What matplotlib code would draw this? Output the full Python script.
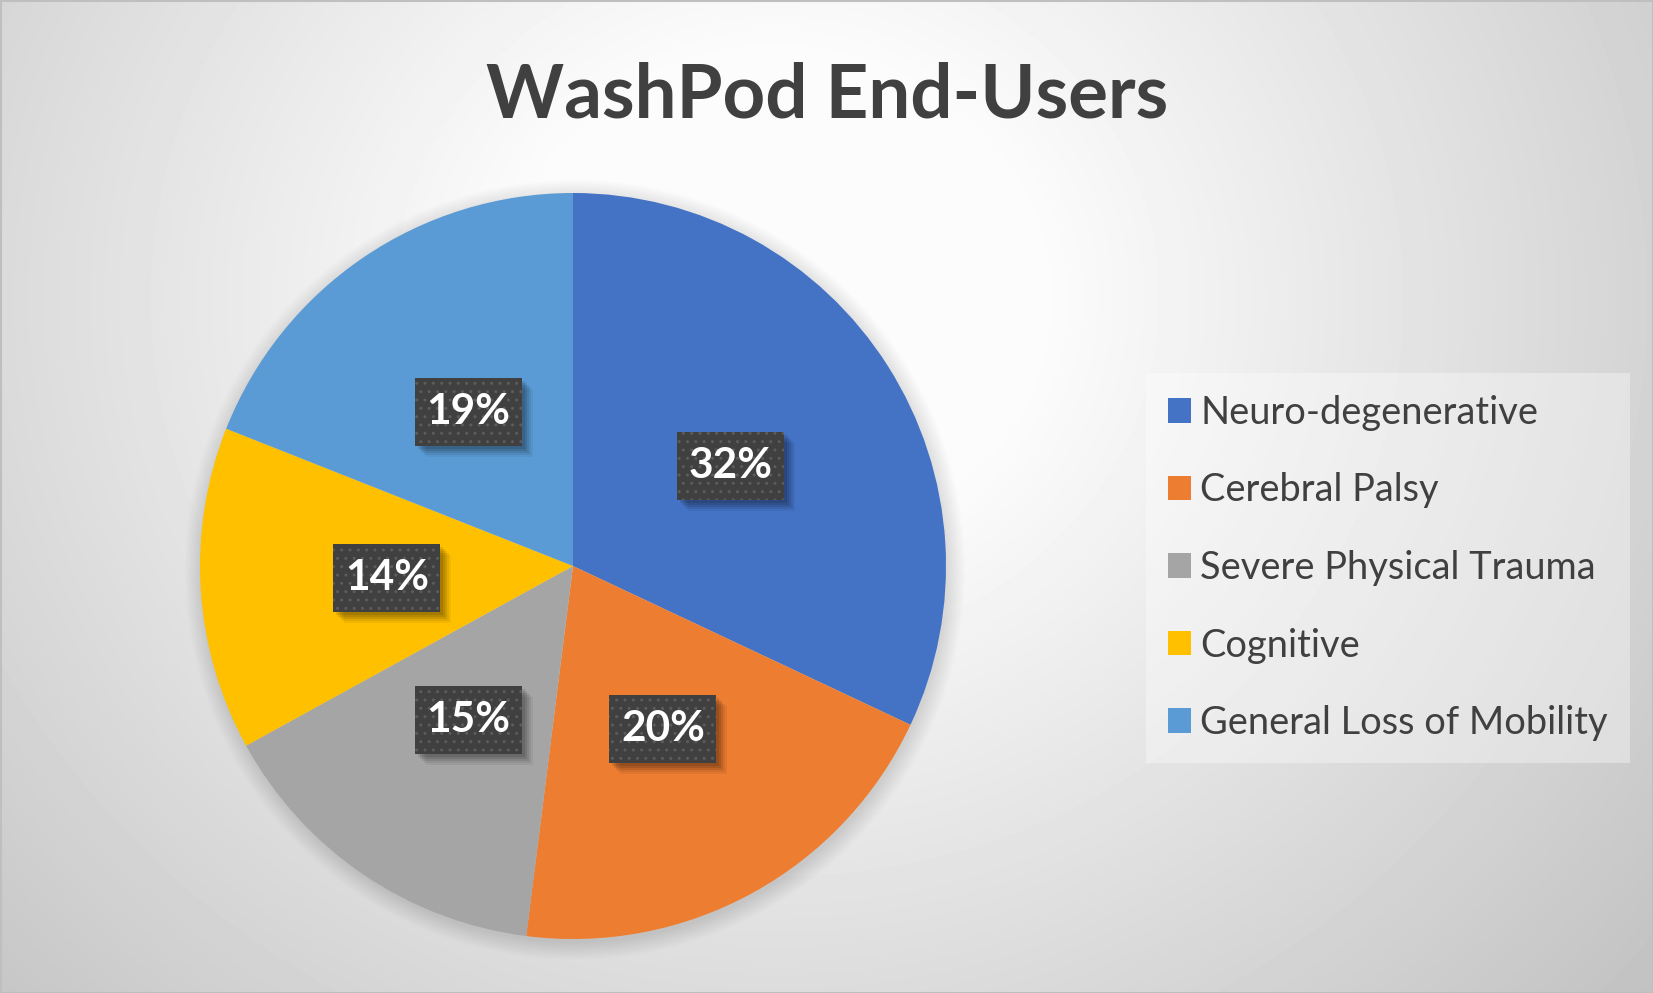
import numpy as np
import matplotlib
matplotlib.use('Agg')
import matplotlib.pyplot as plt
from matplotlib import patheffects as pe
from matplotlib.patches import Circle, Rectangle, Patch

# ---- data ----
categories = ['Neuro-degenerative', 'Cerebral Palsy', 'Severe Physical Trauma',
              'Cognitive', 'General Loss of Mobility']
values = [32, 20, 15, 14, 19]
colors = ['#4472C4', '#ED7D31', '#A5A5A5', '#FFC000', '#5B9BD5']
title = 'WashPod End-Users'

FONT = 'Lato'
TXT = '#404040'
W, H = 1653, 993
fig = plt.figure(figsize=(W / 100, H / 100), dpi=100)
renderer = fig.canvas.get_renderer()


def fit_size(s, target_px, weight='normal'):
    t = fig.text(0, 0, s, fontsize=20, fontweight=weight, family=FONT)
    w = t.get_window_extent(renderer).width
    t.remove()
    return 20 * target_px / w


def text_h(s, size, weight='normal'):
    t = fig.text(0, 0, s, fontsize=size, fontweight=weight, family=FONT)
    h = t.get_window_extent(renderer).height
    t.remove()
    return h

# ---- background gradient ----
bg = fig.add_axes([0, 0, 1, 1], zorder=-10)
gx, gy = np.meshgrid(np.linspace(0, 1, 400), np.linspace(0, 1, 240))
d = np.sqrt(((gx - 0.47) / 0.52) ** 2 + ((gy - 0.30) / 0.8) ** 2)
val = np.clip(255 - 56 * (d - 0.25), 194, 252) / 255.0
bg.imshow(val, cmap='gray', vmin=0, vmax=1, extent=[0, 1, 1, 0], aspect='auto',
          interpolation='bilinear')
bg.set_xlim(0, 1)
bg.set_ylim(1, 0)
bg.axis('off')

# ---- pie ----
cx, cy, R = 573, 566, 373
ax = fig.add_axes([(cx - R) / W, (H - cy - R) / H, 2 * R / W, 2 * R / H])
wedges, texts, autotexts = ax.pie(values, colors=colors, startangle=90,
                                  counterclock=False, radius=1.0,
                                  autopct='%1.0f%%', pctdistance=0.5,
                                  wedgeprops=dict(linewidth=0))
ax.set_xlim(-1, 1)
ax.set_ylim(-1, 1)
ax.axis('off')

# soft shadow around pie
for k in range(10):
    ax.add_patch(Circle((0.005, -0.01), 1.0 + 0.005 * k, facecolor='black',
                        edgecolor='none', alpha=0.012, zorder=0, clip_on=False))

pct_size = fit_size('19%', 84, 'bold')
bw, bh = 107 / R, 68 / R
for t in autotexts:
    x, y = t.get_position()
    # blurred drop shadow made of stacked translucent boxes
    for k, a in [(3, 0.10), (5, 0.10), (7, 0.09), (9, 0.07), (11, 0.05)]:
        ax.add_patch(Rectangle((x - bw / 2 + k / R, y - bh / 2 - k / R), bw, bh,
                               facecolor='black', edgecolor='none', alpha=a,
                               zorder=2.5))
    box = Rectangle((x - bw / 2, y - bh / 2), bw, bh, facecolor='#404040',
                    edgecolor='#5c5c5c', hatch='..', linewidth=0, zorder=3)
    ax.add_patch(box)
    t.set(color='white', fontsize=pct_size, fontweight='bold', family=FONT,
          zorder=4, ha='center', va='center')

# ---- title ----
title_size = fit_size(title, 683, 'bold')
fig.text(827 / W, 1 - 118 / H, title, ha='center', va='baseline',
         fontsize=title_size, fontweight='bold', family=FONT, color=TXT)

# ---- legend ----
leg_size = fit_size('General Loss of Mobility', 408)
fs_px = leg_size * 100 / 72
th = text_h('Neuro-degenerative', leg_size)
row = 77.5
pad = 22
handles = [Patch(facecolor=c, edgecolor='none') for c in colors]
leg = fig.legend(handles, categories, loc='upper left',
                 bbox_to_anchor=(1146 / W, 1 - 373 / H),
                 prop=dict(family=FONT, size=leg_size),
                 handlelength=23 / fs_px, handleheight=23 / fs_px,
                 handletextpad=9 / fs_px, labelspacing=(row - th) / fs_px,
                 borderpad=pad / fs_px, borderaxespad=0, frameon=True,
                 fancybox=False, labelcolor=TXT)
fr = leg.get_frame()
fr.set_facecolor('white')
fr.set_alpha(0.35)
fr.set_edgecolor('none')
fr.set_linewidth(0)

# ---- border ----
fig.add_artist(Rectangle((0, 0), 1, 1, transform=fig.transFigure, fill=False,
                         edgecolor='#bfbfbf', linewidth=2.2, zorder=20))

fig.savefig('out.png', dpi=100)
